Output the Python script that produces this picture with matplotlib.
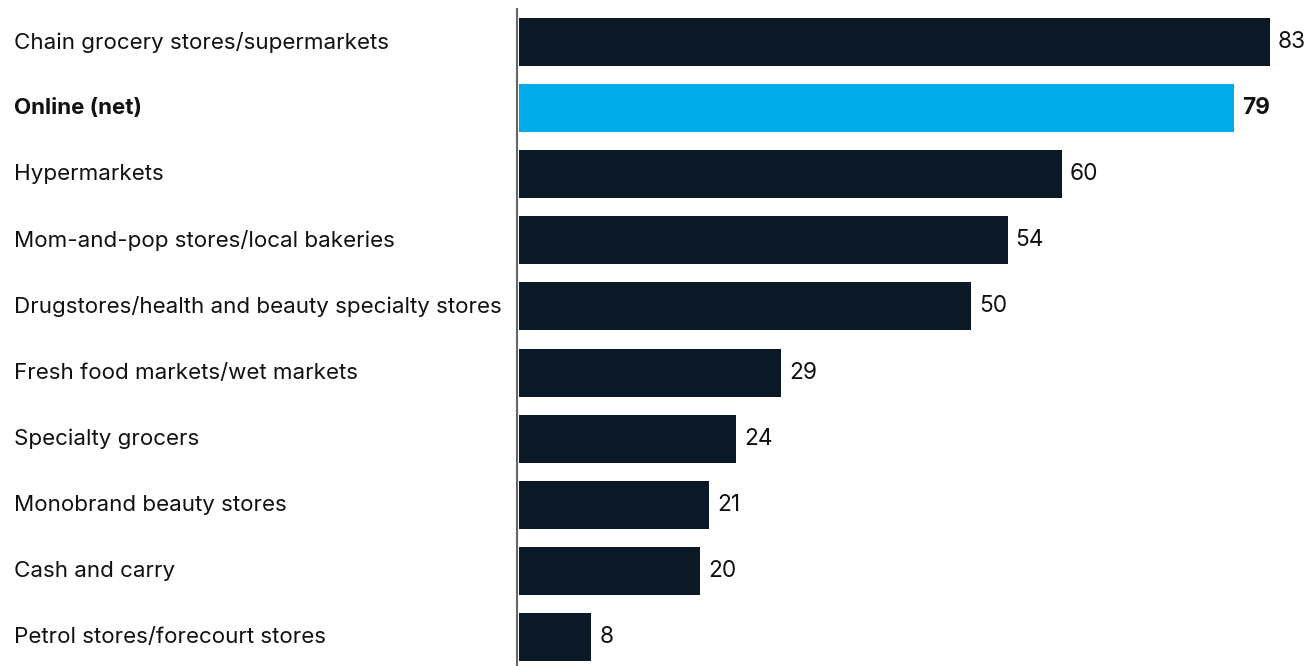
import matplotlib.pyplot as plt
import matplotlib.transforms as mtransforms

categories = [
    "Chain grocery stores/supermarkets",
    "Online (net)",
    "Hypermarkets",
    "Mom-and-pop stores/local bakeries",
    "Drugstores/health and beauty specialty stores",
    "Fresh food markets/wet markets",
    "Specialty grocers",
    "Monobrand beauty stores",
    "Cash and carry",
    "Petrol stores/forecourt stores",
]
values = [83, 79, 60, 54, 50, 29, 24, 21, 20, 8]
highlight = "Online (net)"

dark = "#0c1a27"
blue = "#00ade8"

plt.rcParams['font.family'] = ['Inter', 'DejaVu Sans']

fig = plt.figure(figsize=(13.16, 6.66), dpi=100)
ax = fig.add_axes([519 / 1316, 0, 1 - 519 / 1316, 1 - 9 / 666])

ypos = list(range(len(categories)))
colors = [blue if c == highlight else dark for c in categories]
ax.barh(ypos, values, height=0.726, color=colors)

ax.set_xlim(0, 88.1)
ax.set_ylim(9.44, -0.5)
ax.set_xticks([])
ax.set_yticks([])
for s in ["top", "right", "bottom"]:
    ax.spines[s].set_visible(False)
ax.spines["left"].set_color("#666666")
ax.spines["left"].set_linewidth(1.5)
ax.spines["left"].set_position(("outward", 1.5))

trans = mtransforms.blended_transform_factory(fig.transFigure, ax.transData)
for y, cat, v in zip(ypos, categories, values):
    bold = cat == highlight
    fig.text(14 / 1316, y, cat, transform=trans, ha="left", va="center",
             fontsize=16.1, color="#111111", fontweight="bold" if bold else "normal")
    ax.text(v + 0.9, y, str(v), ha="left", va="center", fontsize=16.3,
            color="#111111", fontweight="bold" if bold else "normal")

fig.savefig("out.png", dpi=100)
